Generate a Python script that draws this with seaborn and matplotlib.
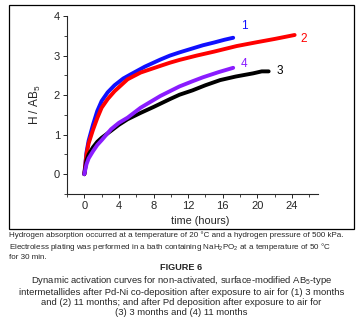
import matplotlib
matplotlib.use("Agg")
import matplotlib.pyplot as plt
import seaborn as sns
from matplotlib.ticker import MultipleLocator
from matplotlib.patches import Rectangle

# data
t1 = [0, 0.25, 0.5, 1, 1.5, 2, 2.7, 3.5, 4.5, 5.4, 7, 8.8, 9.9, 11, 12.5, 13.7, 15, 16.2, 17.2]
h1 = [0, 0.55, 0.85, 1.25, 1.6, 1.85, 2.07, 2.25, 2.42, 2.53, 2.72, 2.9, 3.0, 3.08, 3.18, 3.26, 3.33, 3.4, 3.45]

t2 = [0, 0.25, 0.5, 1, 1.5, 2, 2.7, 3.5, 5, 6.5, 8.8, 9.9, 11, 13, 15, 17.6, 20, 22, 24.3]
h2 = [0, 0.5, 0.78, 1.12, 1.42, 1.68, 1.9, 2.1, 2.4, 2.57, 2.74, 2.82, 2.89, 3.0, 3.1, 3.24, 3.34, 3.42, 3.52]

t3 = [0, 0.25, 0.5, 1, 1.5, 2, 3.1, 4, 5, 6.5, 8, 9.9, 11, 12.5, 14, 15.7, 17.5, 19.5, 20.5, 21.3]
h3 = [0, 0.35, 0.5, 0.68, 0.82, 0.92, 1.1, 1.25, 1.39, 1.55, 1.7, 1.9, 2.01, 2.12, 2.25, 2.38, 2.47, 2.55, 2.6, 2.6]

t4 = [0, 0.25, 0.5, 1, 1.5, 2, 3.1, 4, 5, 6.5, 8.8, 9.9, 11, 12.5, 13.7, 15.5, 17.2]
h4 = [0, 0.25, 0.4, 0.58, 0.74, 0.86, 1.14, 1.3, 1.43, 1.68, 1.98, 2.1, 2.22, 2.35, 2.45, 2.58, 2.69]

labels = ["1", "2", "3", "4"]
colors = ["#1010ff", "#ff0000", "#000000", "#8a1cff"]
label_pos = [(18.5, 3.75), (25.3, 3.42), (22.6, 2.6), (18.5, 2.78)]

sns.set_style("ticks")
plt.rcParams["font.family"] = ["Liberation Sans", "DejaVu Sans"]
plt.rcParams["mathtext.fontset"] = "custom"
plt.rcParams["mathtext.rm"] = "Liberation Sans"
plt.rcParams["mathtext.it"] = "Liberation Sans:italic"
plt.rcParams["mathtext.default"] = "regular"

fig = plt.figure(figsize=(3.63, 3.24), dpi=100)
ax = fig.add_axes([67 / 363, 1 - 194 / 324, 251 / 363, 178 / 324])

series = [(t1, h1), (t2, h2), (t3, h3), (t4, h4)]
for (t, h), c in zip(series, colors):
    sns.lineplot(x=t, y=h, ax=ax, color=c, lw=2.8, sort=False, estimator=None)

for lab, c, (x, y) in zip(labels, colors, label_pos):
    ax.text(x, y, lab, color=c, fontsize=8.5, ha="center", va="center")

ax.set_xlim(-2, 27)
ax.set_ylim(-0.5, 4)
ax.xaxis.set_major_locator(MultipleLocator(4))
ax.xaxis.set_minor_locator(MultipleLocator(2))
ax.yaxis.set_major_locator(MultipleLocator(1))
ax.yaxis.set_minor_locator(MultipleLocator(0.5))
ax.tick_params(which="major", length=3, width=0.7, labelsize=8, pad=2)
ax.tick_params(which="minor", length=2, width=0.6)
for s in ["top", "right"]:
    ax.spines[s].set_visible(False)
for s in ["left", "bottom"]:
    ax.spines[s].set_linewidth(0.8)
ax.set_xticks([0, 4, 8, 12, 16, 20, 24])
ax.set_xlabel("time (hours)", fontsize=7.8, labelpad=4)
ax.xaxis.label.set_x(0.53)
ax.set_ylabel("H / AB$_5$", fontsize=8.5, labelpad=8)

# frame around the figure panel
fig.patches.append(Rectangle((9 / 363, 1 - 229 / 324), 345 / 363, 224 / 324,
                             transform=fig.transFigure, fill=False, lw=0.9, ec="black"))

note = ("Hydrogen absorption occurred at a temperature of 20 °C and a hydrogen pressure of 500 kPa.\n"
        "Electroless plating was performed in a bath containing NaH$_2$PO$_2$ at a temperature of 50 °C\n"
        "for 30 min.")
fig.text(9 / 363, 1 - 246 / 324, note, fontsize=5.75, ha="left", va="center", linespacing=1.2)

fig.text(0.5, 1 - 268 / 324, "FIGURE 6", fontsize=6.6, fontweight="bold", ha="center", va="center")
caption = ("Dynamic activation curves for non-activated, surface-modified AB$_5$-type\n"
           "intermetallides after Pd-Ni co-deposition after exposure to air for (1) 3 months\n"
           "and (2) 11 months; and after Pd deposition after exposure to air for\n"
           "(3) 3 months and (4) 11 months")
fig.text(0.5, 1 - 295.5 / 324, caption, fontsize=6.8, ha="center", va="center", linespacing=1.1)

fig.savefig("out.png", dpi=100)
